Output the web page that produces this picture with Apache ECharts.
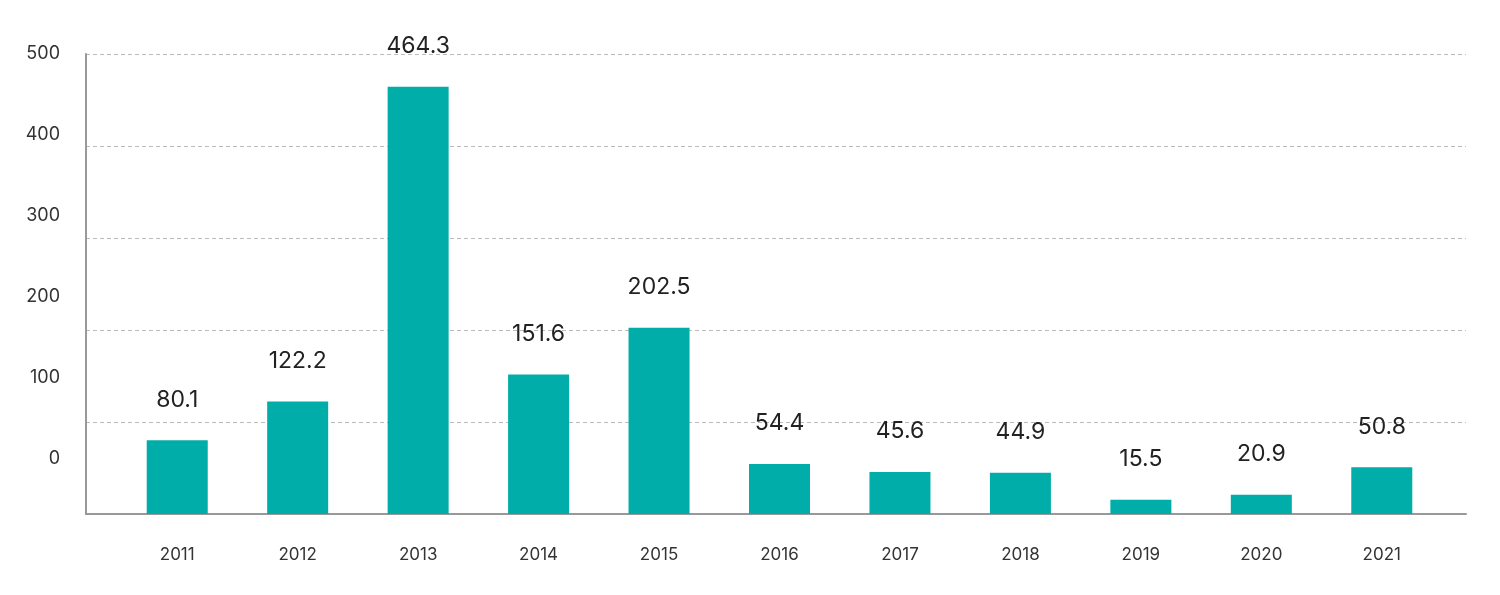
<!DOCTYPE html>
<html>
<head>
<meta charset="utf-8">
<script src="https://cdn.jsdelivr.net/npm/echarts@6/dist/echarts.min.js"></script>
<style>html,body{margin:0;padding:0;background:#fff}#c{width:1500px;height:595px}</style>
</head>
<body>
<div id="c"></div>
<script>
const categories = ['2011','2012','2013','2014','2015','2016','2017','2018','2019','2020','2021'];
const values = [80.1, 122.2, 464.3, 151.6, 202.5, 54.4, 45.6, 44.9, 15.5, 20.9, 50.8];
const yTicks = [0, 100, 200, 300, 400, 500];

const chart = echarts.init(document.getElementById('c'));
const FONT = 'Inter, "Noto Sans", sans-serif';
chart.setOption({
  animation: false,
  grid: [
    {left: 86, right: 34, top: 54, bottom: 81},
    {left: 117, right: 58, top: 54, bottom: 81},
    {left: 86, right: 34, top: 54, bottom: 136}
  ],
  xAxis: [
    {gridIndex: 0, type: 'category', data: categories, axisLine: {show: true, lineStyle: {color: '#999', width: 2}}, axisTick: {show: false}, axisLabel: {show: false}},
    {gridIndex: 1, type: 'category', data: categories, axisLine: {show: false}, axisTick: {show: false},
      axisLabel: {color: '#333', fontSize: 17, fontFamily: FONT, margin: 32}},
    {gridIndex: 2, type: 'category', data: categories, show: false}
  ],
  yAxis: [
    {gridIndex: 0, type: 'value', min: 0, max: 500, interval: 100,
      axisLine: {show: true, lineStyle: {color: '#999', width: 2}}, axisTick: {show: false}, axisLabel: {show: false},
      splitLine: {show: true, lineStyle: {color: '#bbb', type: [4, 3], width: 1}}},
    {gridIndex: 1, type: 'value', min: 0, max: 500, interval: 100, show: false, splitLine: {show: false}},
    {gridIndex: 2, type: 'value', min: yTicks[0], max: yTicks[yTicks.length-1], interval: 100,
      axisLine: {show: false}, axisTick: {show: false}, splitLine: {show: false},
      axisLabel: {color: '#333', fontSize: 18, fontFamily: FONT, margin: 26}}
  ],
  series: [{
    type: 'bar', xAxisIndex: 1, yAxisIndex: 1, data: values, barWidth: 61,
    itemStyle: {color: '#00ADA9'},
    label: {show: true, position: 'top', distance: 29, color: '#222', fontSize: 23, fontFamily: FONT}
  }]
});
</script>
</body>
</html>
